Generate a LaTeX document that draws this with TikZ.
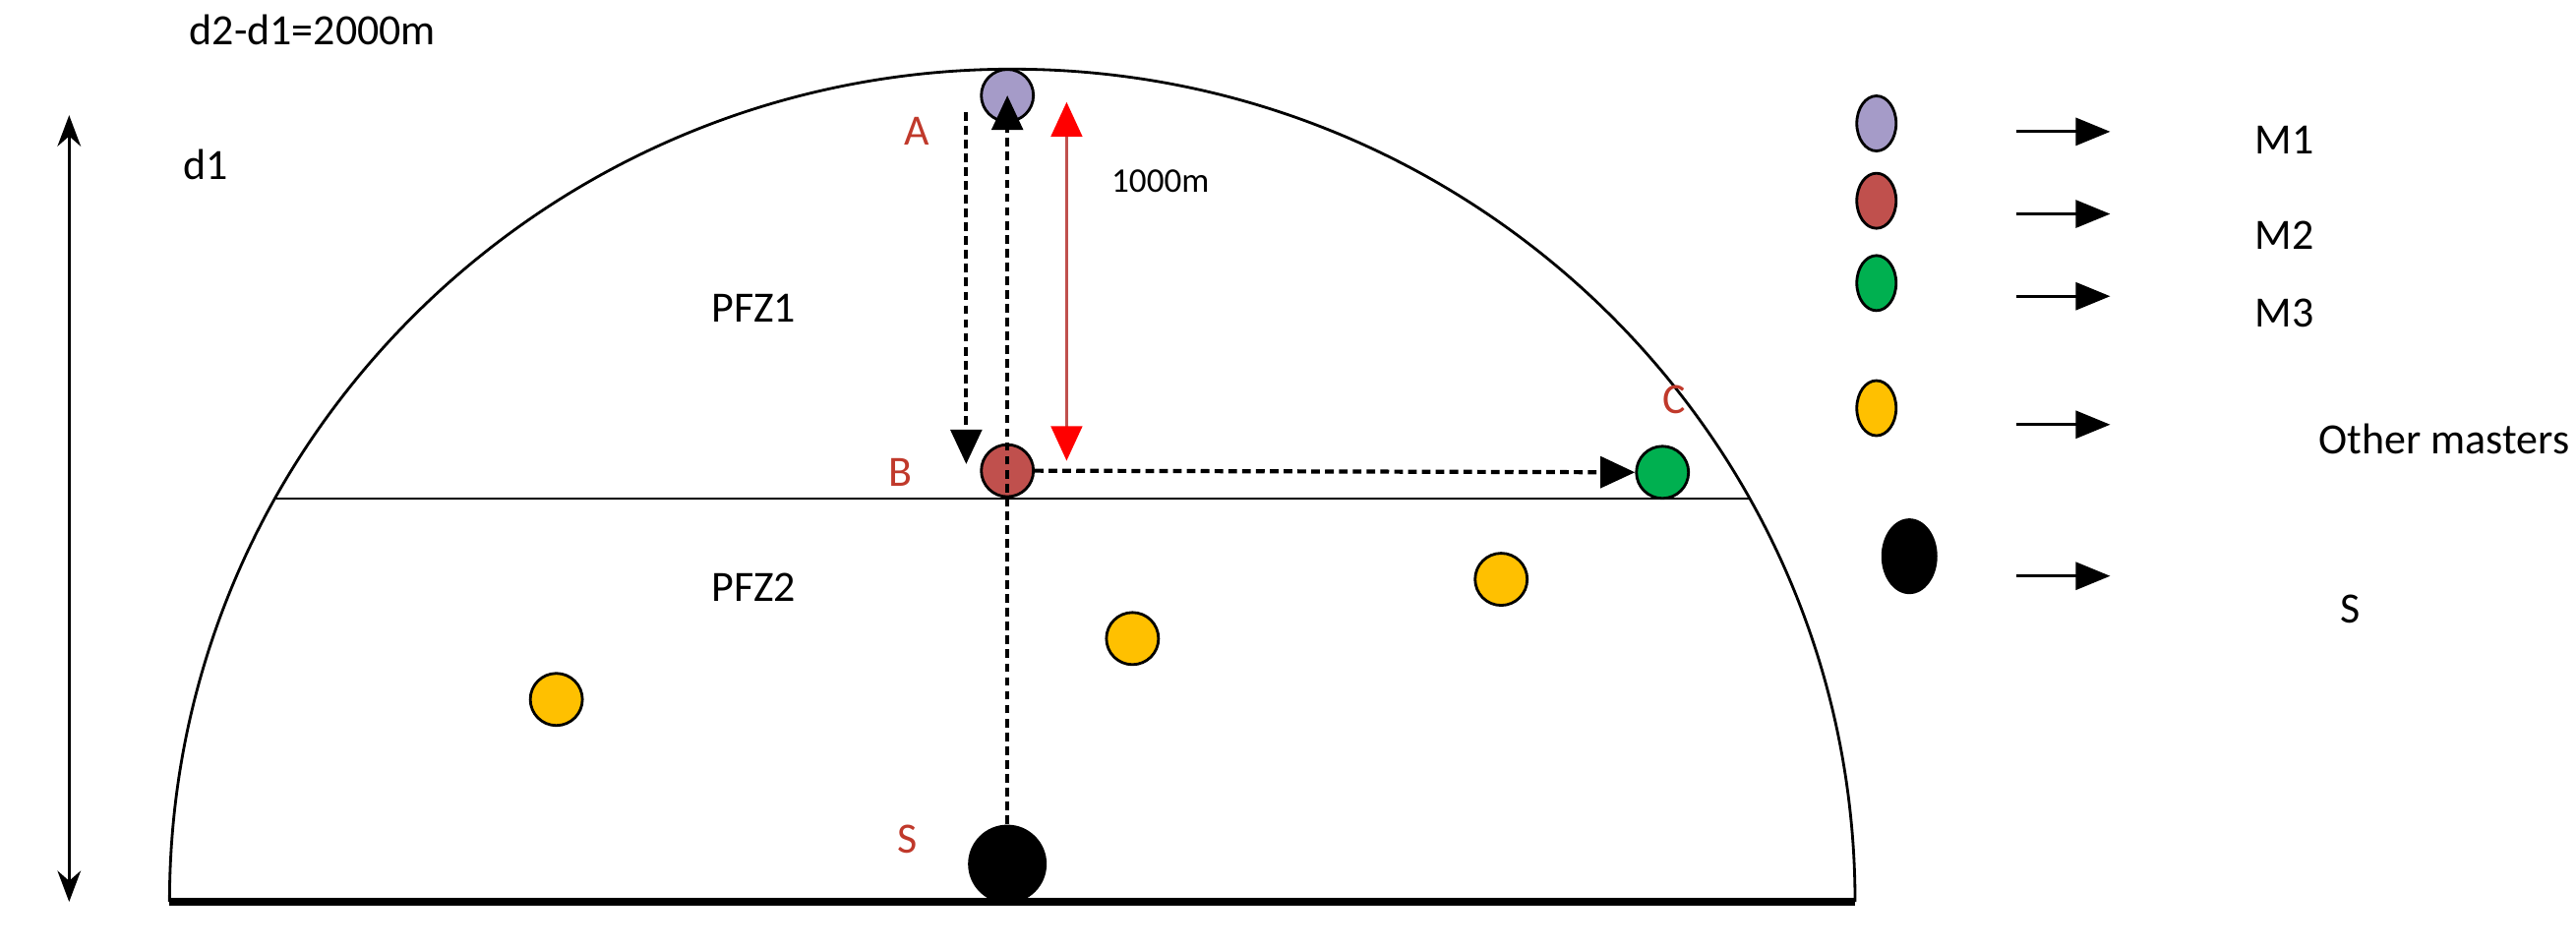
\documentclass[tikz,border=0pt]{standalone}
\usepackage{fontspec}
\setmainfont{Carlito}
\usetikzlibrary{arrows.meta,shapes.geometric}
\definecolor{mpurple}{HTML}{A59BC8}
\definecolor{mred}{HTML}{C0504D}
\definecolor{mgreen}{HTML}{00B050}
\definecolor{myellow}{HTML}{FFC000}
\definecolor{lblred}{HTML}{C0392B}
\begin{document}
\begin{tikzpicture}[x=0.016735cm,y=-0.016735cm,
  dot/.style={circle,draw=black,thick,minimum size=0.53cm,inner sep=0},
  ldot/.style={ellipse,draw=black,thick,minimum width=0.4cm,minimum height=0.56cm,inner sep=0},
  txt/.style={font=\fontsize{12.5}{14}\selectfont},
  lbl/.style={font=\fontsize{12.5}{14}\selectfont,text=lblred},
  dots/.style={very thick,dash pattern=on 2.5pt off 1.5pt},
  tip/.style={-{Triangle[length=10pt,width=9pt]}}]
\useasboundingbox (0,0) rectangle (1565,576);
% outline
\draw[thick] (103,548) arc[start angle=180,end angle=0,x radius=512,y radius=-506];
\draw[line width=2.5pt] (103,548) -- (1127,548);
\draw[thick] (167,303) -- (1063,303);
% nodes
\node[dot,fill=mpurple] (M1) at (612,58) {};
\node[dot,fill=mred] (B) at (612,286) {};
\node[dot,fill=mgreen] (C) at (1010,287) {};
\node[circle,fill=black,minimum size=0.8cm,inner sep=0] (S) at (612,525) {};
\node[dot,fill=myellow] (Y1) at (338,425) {};
\node[dot,fill=myellow] (Y2) at (688,388) {};
\node[dot,fill=myellow] (Y3) at (912,352) {};
% arrows
\coordinate (a1) at (587,68);
\coordinate (a2) at (587,282);
\draw[dots,tip] (a1) -- (a2);
\draw[dots,tip] (S.north) -- (M1.center);
\draw[dots,tip] (B.east) -- (C.west);
\coordinate (r1) at (648,62);
\coordinate (r2) at (648,280);
\draw[thick,draw=mred,{Triangle[length=10pt,width=9pt,fill=red,color=red]}-{Triangle[length=10pt,width=9pt,fill=red,color=red]}] (r1) -- (r2);
\coordinate (d1a) at (42,70);
\coordinate (d1b) at (42,548);
\draw[thick,{Stealth[length=9pt]}-{Stealth[length=9pt]}] (d1a) -- (d1b);
% labels
\node[txt] (t0) at (190,18) {d2-d1=2000m};
\node[txt] (t1) at (125,100) {d1};
\node[lbl] (lA) at (557,80) {A};
\node[lbl] (lB) at (547,287) {B};
\node[lbl] (lC) at (1017,243) {C};
\node[lbl] (lS) at (551,510) {S};
\node[txt] (p1) at (458,187) {PFZ1};
\node[txt] (p2) at (458,357) {PFZ2};
\node[font=\fontsize{10}{12}\selectfont] (km) at (705,110) {1000m};
% legend
\node[ldot,fill=mpurple] (L1) at (1140,75) {};
\node[ldot,fill=mred] (L2) at (1140,122) {};
\node[ldot,fill=mgreen] (L3) at (1140,172) {};
\node[ldot,fill=myellow] (L4) at (1140,248) {};
\node[ellipse,fill=black,minimum width=0.57cm,minimum height=0.77cm,inner sep=0] (L5) at (1160,338) {};
\foreach \y/\t/\x [count=\i] in {85/M1/1388,143/M2/1388,190/M3/1388,267/Other masters/1485,370/S/1428}{
  \node[txt] (T\i) at (\x,\y) {\t};
}
\foreach \y [count=\i] in {80,130,180,258,350}{
  \coordinate (ea\i) at (1225,\y);
  \coordinate (eb\i) at (1282,\y);
  \draw[thick,-{Triangle[length=10pt,width=8pt]}] (ea\i) -- (eb\i);
}
\end{tikzpicture}
\end{document}
